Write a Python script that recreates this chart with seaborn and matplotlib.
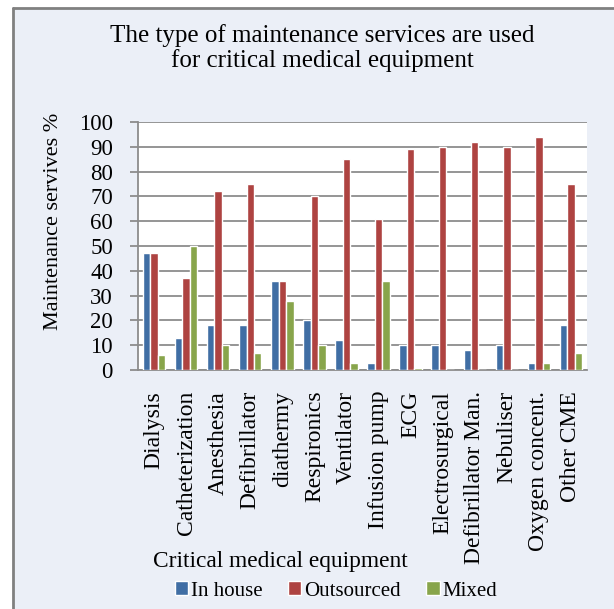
import seaborn as sns
import pandas as pd
import matplotlib.pyplot as plt
from matplotlib.patches import Rectangle
from matplotlib.lines import Line2D

equipment = ['Dialysis', 'Catheterization', 'Anesthesia', 'Defibrillator',
             'diathermy', 'Respironics', 'Ventilator', 'Infusion pump', 'ECG',
             'Electrosurgical', 'Defibrillator Man.', 'Nebuliser',
             'Oxygen concent.', 'Other CME']
in_house = [47, 13, 18, 18, 36, 20, 12, 3, 10, 10, 8, 10, 3, 18]
outsourced = [47, 37, 72, 75, 36, 70, 85, 61, 89, 90, 92, 90, 94, 75]
mixed = [6, 50, 10, 7, 28, 10, 3, 36, 1, 0, 0, 0, 3, 7]

df = pd.DataFrame({'equipment': equipment, 'In house': in_house,
                   'Outsourced': outsourced, 'Mixed': mixed})
long = df.melt(id_vars='equipment', var_name='type', value_name='pct')

sns.set_theme(style='white')
plt.rcParams['font.family'] = ['Liberation Serif', 'DejaVu Serif']
plt.rcParams['text.color'] = 'black'
plt.rcParams['axes.labelcolor'] = 'black'

bg = '#EBEFF7'
W, H = 614, 609
fig = plt.figure(figsize=(6.14, 6.09), dpi=100, facecolor='white')

# background panel with gray border on left and top
fig.patches.append(Rectangle((13 / W, 0), 1 - 13 / W, 1 - 8 / H,
                             transform=fig.transFigure, facecolor=bg,
                             edgecolor='none', zorder=-10))
fig.lines.append(Line2D([13 / W, 13 / W], [0, 1 - 8 / H], transform=fig.transFigure,
                        color='#808080', lw=2, zorder=-9))
fig.lines.append(Line2D([13 / W, 1], [1 - 8 / H, 1 - 8 / H], transform=fig.transFigure,
                        color='#808080', lw=2, zorder=-9))

ax = fig.add_axes([138 / W, 1 - 370 / H, 449 / W, 248 / H])
ax.set_facecolor('white')

sns.barplot(data=long, x='equipment', y='pct', hue='type',
            hue_order=['In house', 'Outsourced', 'Mixed'],
            palette=['#2F6DB5', '#C0312F', '#8DB43C'],
            width=0.7, ax=ax, zorder=3)

ax.set_ylim(0, 100)
ax.set_yticks(range(0, 101, 10))
ax.yaxis.grid(True, color='#8C8C8C', lw=1.3, zorder=0)
ax.set_xlim(-0.5, len(equipment) - 0.5)
for s in ['top', 'right']:
    ax.spines[s].set_visible(False)
for s in ['left', 'bottom']:
    ax.spines[s].set_color('#8C8C8C')
    ax.spines[s].set_linewidth(1.3)

ax.tick_params(axis='y', labelsize=16.5, length=6, width=1.3, color='#8C8C8C',
               labelcolor='black', direction='out', left=True, pad=12)
ax.tick_params(axis='x', labelsize=17, length=0, pad=15, labelrotation=90,
               labelcolor='black')
ax.set_xlabel('')
ax.set_ylabel('')

fig.text(54 / W, 1 - 221 / H, 'Maintenance servives %', rotation=90,
         ha='center', va='center', fontsize=16)
fig.text(0.525, 0.921, 'The type of maintenance services are used\nfor critical medical equipment',
         ha='center', va='center', fontsize=18, linespacing=1.15)
fig.text(280 / W, 1 - 561 / H, 'Critical medical equipment', ha='center', va='center',
         fontsize=16.8)

handles, labels = ax.get_legend_handles_labels()
ax.get_legend().remove()
fig.legend(handles, labels, loc='center', bbox_to_anchor=(336 / W, 1 - 591 / H),
           ncol=3, frameon=False, fontsize=15, handlelength=0.65,
           handleheight=0.65, handletextpad=0.15, columnspacing=1.2)

fig.savefig('out.png', dpi=100, facecolor='white')
